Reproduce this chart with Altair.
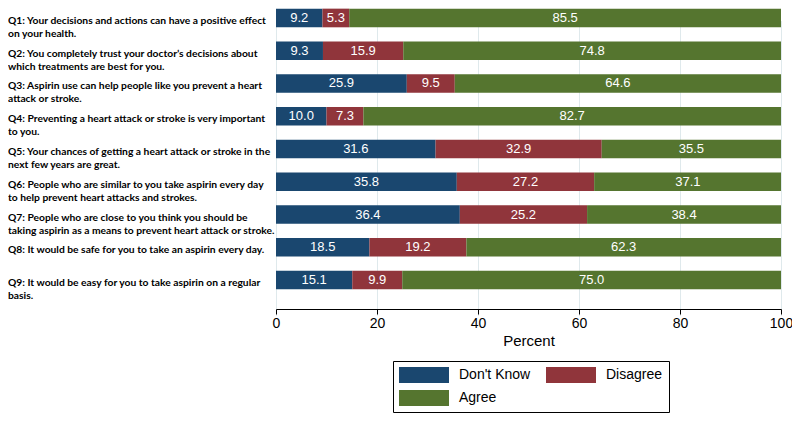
import altair as alt
import pandas as pd

keys = ["Q1", "Q2", "Q3", "Q4", "Q5", "Q6", "Q7", "Q8", "Q9"]
labels = [
    "Q1: Your decisions and actions can have a positive effect\non your health.",
    "Q2: You completely trust your doctor\u2019s decisions about\nwhich treatments are best for you.",
    "Q3: Aspirin use can help people like you prevent a heart\nattack or stroke.",
    "Q4: Preventing a heart attack or stroke is very important\nto you.",
    "Q5: Your chances of getting a heart attack or stroke in the\nnext few years are great.",
    "Q6: People who are similar to you take aspirin every day\nto help prevent heart attacks and strokes.",
    "Q7: People who are close to you think you should be\ntaking aspirin as a means to prevent heart attack or stroke.",
    "Q8: It would be safe for you to take an aspirin every day.",
    "Q9: It would be easy for you to take aspirin on a regular\nbasis.",
]
dont_know = [9.2, 9.3, 25.9, 10.0, 31.6, 35.8, 36.4, 18.5, 15.1]
disagree = [5.3, 15.9, 9.5, 7.3, 32.9, 27.2, 25.2, 19.2, 9.9]
agree = [85.5, 74.8, 64.6, 82.7, 35.5, 37.1, 38.4, 62.3, 75.0]
categories = ["Don't Know", "Disagree", "Agree"]
colors = ["#1a476f", "#90353b", "#55752f"]

rows = []
for i, k in enumerate(keys):
    for j, (cat, vals) in enumerate(zip(categories, [dont_know, disagree, agree])):
        rows.append({"key": k, "cat": cat, "order": j, "value": vals[i]})
df = pd.DataFrame(rows)
lab_df = pd.DataFrame({"key": keys, "label": labels})

yscale = alt.Scale(domain=keys, range=[-6.4, 288.4], paddingInner=0.43, paddingOuter=0.215)
base = alt.Chart(df).transform_stack(
    stack="value", groupby=["key"], as_=["x0", "x1"], sort=[alt.SortField("order")]
).transform_calculate(mid="(datum.x0 + datum.x1) / 2")

bars = base.mark_bar(clip=True).encode(
    y=alt.Y("key:N", scale=yscale, axis=None),
    x=alt.X("x0:Q", scale=alt.Scale(domain=[0, 100], nice=False),
            axis=alt.Axis(values=[0, 20, 40, 60, 80, 100], title="Percent",
                          grid=True, gridColor="#dfe9ec", domainColor="black",
                          tickColor="black", tickSize=5, labelFontSize=14,
                          labelFont="Liberation Sans", labelColor="black",
                          labelFlush=False,
                          labelPadding=2, titleFont="Liberation Sans",
                          titleFontSize=15, titleFontWeight="normal",
                          titleColor="black", titlePadding=3)),
    x2="x1:Q",
    color=alt.Color("cat:N", scale=alt.Scale(domain=categories, range=colors),
                    sort=categories,
                    legend=alt.Legend(title=None, orient="none", legendX=117, legendY=353,
                                      direction="horizontal",
                                      columns=2, symbolType="M-1,-1H5.25V1H-1Z",
                                      symbolSize=256, labelOffset=44, rowPadding=7,
                                      columnPadding=15, padding=6, strokeColor="black",
                                      fillColor="white", labelFontSize=14,
                                      labelFont="Liberation Sans", labelColor="black",
                                      symbolStrokeWidth=0, symbolOpacity=1)),
)

vals = base.mark_text(color="white", fontSize=13, font="Liberation Sans", baseline="middle").encode(
    y=alt.Y("key:N", scale=yscale, axis=None),
    x=alt.X("mid:Q"),
    text=alt.Text("value:Q", format=".1f"),
)

qlabels = alt.Chart(lab_df).mark_text(
    align="left", baseline="middle", fontWeight="bold", fontSize=10.3,
    font="Lato", lineBreak="\n", lineHeight=13, dy=3, color="black"
).encode(
    y=alt.Y("key:N", scale=yscale, axis=None),
    x=alt.value(-268),
    text="label:N",
)

chart = alt.layer(bars, vals, qlabels).properties(
    width=505, height=301,
    autosize=alt.AutoSizeParams(type="none"),
    padding={"left": 268, "top": 0, "right": 11, "bottom": 104},
    background="white",
).configure_view(stroke=None)

chart.save("out.html", embed_options={"renderer": "svg", "actions": False})
